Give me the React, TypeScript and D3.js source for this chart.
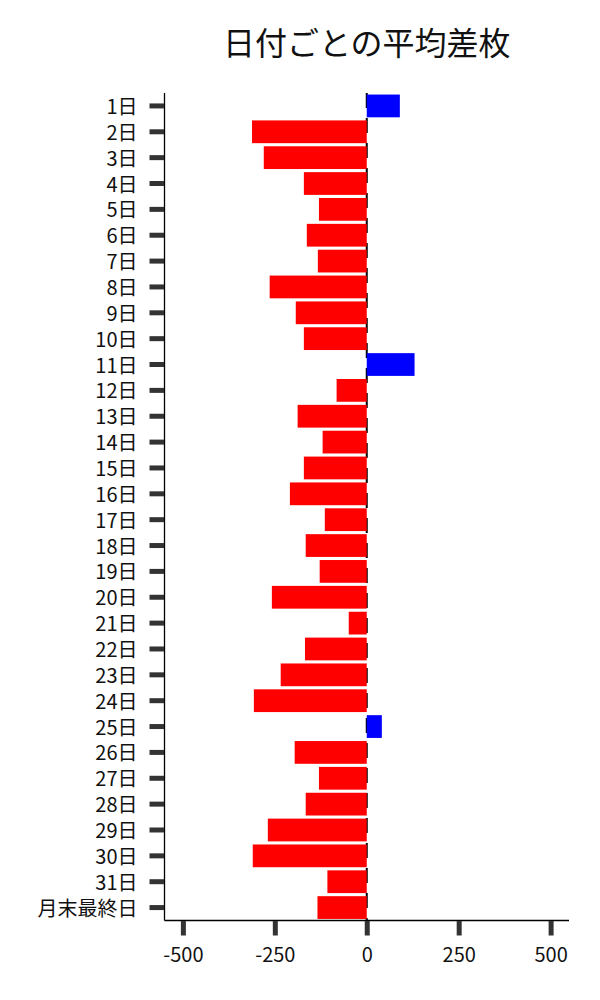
import { useEffect, useRef } from 'react';
import * as d3 from 'd3';

const categories = [
    '1日', '2日', '3日', '4日', '5日', '6日', '7日', '8日', '9日', '10日',
    '11日', '12日', '13日', '14日', '15日', '16日', '17日', '18日', '19日', '20日',
    '21日', '22日', '23日', '24日', '25日', '26日', '27日', '28日', '29日', '30日',
    '31日', '月末最終日',
];

const values = [
    90, -312, -280, -171, -130, -163, -133, -264, -193, -171,
    130, -82, -188, -120, -171, -209, -114, -166, -128, -258,
    -49, -168, -234, -307, 41, -196, -130, -166, -269, -310,
    -107, -134,
];

const xTicks = [-500, -250, 0, 250, 500];

const title = '日付ごとの平均差枚';

const width = 600;
const height = 1000;
const margin = { top: 93, right: 31, bottom: 79.5, left: 164.5 };
const font = '"Noto Sans CJK JP", "Noto Sans", sans-serif';

const App = () => {
    const svgRef = useRef<SVGSVGElement>(null);

    useEffect(() => {
        const svg = d3.select(svgRef.current);
        svg.selectAll('*').remove();

        const x = d3
            .scaleLinear()
            .domain([-550, 550])
            .range([margin.left, width - margin.right]);

        const y = d3
            .scaleBand()
            .domain(categories)
            .range([margin.top, height - margin.bottom])
            .paddingInner(0.12)
            .paddingOuter(0.06);

        const data = categories.map((name, i) => ({ name, value: values[i] }));

        // zero line, sits behind the bars
        svg.append('line')
            .attr('x1', x(0))
            .attr('x2', x(0))
            .attr('y1', margin.top)
            .attr('y2', height - margin.bottom)
            .attr('stroke', 'black')
            .attr('stroke-width', 2)
            .attr('stroke-dasharray', '15 10');

        // bars
        svg.append('g')
            .selectAll('rect')
            .data(data)
            .join('rect')
            .attr('x', d => x(Math.min(0, d.value)))
            .attr('y', d => y(d.name) ?? 0)
            .attr('width', d => Math.abs(x(d.value) - x(0)))
            .attr('height', y.bandwidth())
            .attr('fill', d => (d.value >= 0 ? '#0000ff' : '#ff0000'));

        // y axis
        const yAxis = svg
            .append('g')
            .attr('transform', `translate(${margin.left},0)`)
            .call(d3.axisLeft(y).tickSize(15).tickPadding(12));
        yAxis.select('.domain')
            .attr('d', `M0,${margin.top}V${height - margin.bottom}`)
            .attr('stroke', 'black')
            .attr('stroke-width', 1.3);
        yAxis.selectAll('.tick line')
            .attr('stroke', '#333')
            .attr('stroke-width', 5)
            .attr('x1', -0.5);
        yAxis.selectAll('.tick text')
            .attr('font-family', font)
            .attr('font-size', 20)
            .attr('dy', '0.4em')
            .attr('fill', '#111');

        // x axis
        const xAxis = svg
            .append('g')
            .attr('transform', `translate(0,${height - margin.bottom})`)
            .call(
                d3
                    .axisBottom(x)
                    .tickValues(xTicks)
                    .tickSize(15)
                    .tickPadding(12)
                    .tickFormat(d3.format('d'))
            );
        xAxis.select('.domain')
            .attr('d', `M${margin.left},0H${width - margin.right}`)
            .attr('stroke', 'black')
            .attr('stroke-width', 1.3);
        xAxis.selectAll('.tick line')
            .attr('stroke', '#333')
            .attr('stroke-width', 5)
            .attr('y1', 0.5);
        xAxis.selectAll('.tick text')
            .attr('font-family', font)
            .attr('font-size', 20)
            .attr('fill', '#111')
            .text(d => `${d}`.replace('−', '-'));

        // title
        svg.append('text')
            .attr('x', (margin.left + width - margin.right) / 2)
            .attr('y', 55)
            .attr('text-anchor', 'middle')
            .attr('font-family', font)
            .attr('font-size', 32)
            .attr('fill', '#111')
            .text(title);
    }, []);

    return (
        <svg
            ref={svgRef}
            width={width}
            height={height}
            style={{ position: 'absolute', left: 0, top: 0, background: 'white' }}
        ></svg>
    );
};

export default App;
